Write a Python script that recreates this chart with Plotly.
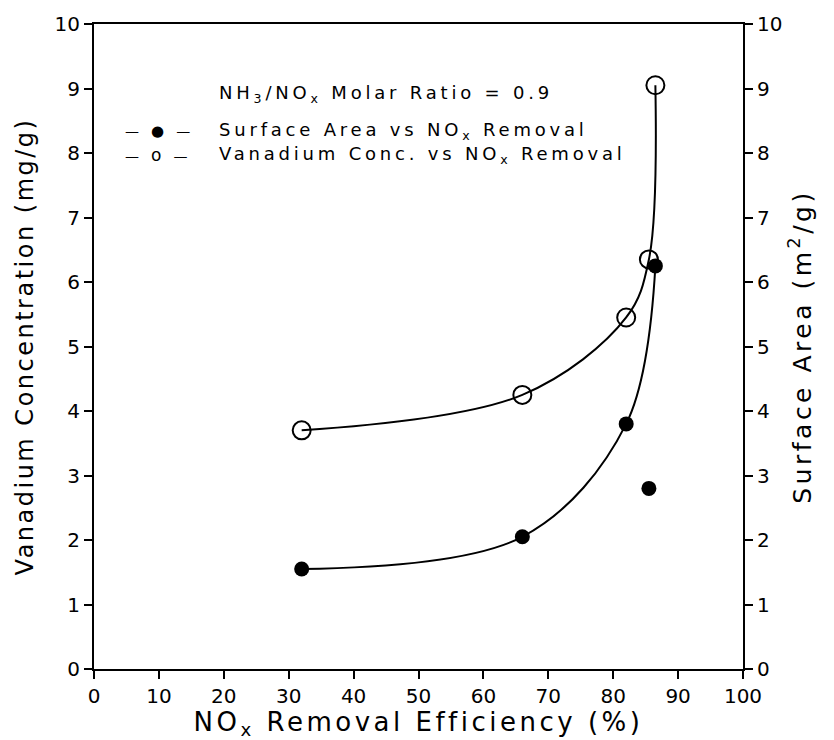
import plotly.graph_objects as go

# NOx removal efficiency (%)
van_x = [32, 66, 82, 85.5, 86.5]
van_y = [3.7, 4.25, 5.45, 6.35, 9.05]      # Vanadium concentration (mg/g)
sa_x = [32, 66, 82, 86.5]
sa_y = [1.55, 2.05, 3.8, 6.25]             # Surface area (m2/g), on curve
sa_out_x = [85.5]
sa_out_y = [2.8]                           # Surface area, off-curve point

x_ticks = list(range(0, 101, 10))
y_ticks = list(range(0, 11, 1))

ratio_text = "NH<sub>3</sub>/NO<sub>x</sub> Molar Ratio = 0.9"
leg1_text = "Surface Area vs NO<sub>x</sub> Removal"
leg2_text = "Vanadium Conc. vs NO<sub>x</sub> Removal"
leg1_sym = "—\u00a0<span style='font-size:15px'>●</span>\u00a0—"
leg2_sym = "—\u00a0<span style='font-size:17px'>o</span>\u00a0—"

FONT = "DejaVu Sans"
fig = go.Figure()

fig.add_trace(go.Scatter(x=van_x, y=van_y, mode="lines+markers",
                         line=dict(color="black", width=2, shape="spline", smoothing=1.0),
                         marker=dict(symbol="circle-open", size=18, color="black", line=dict(width=2)),
                         showlegend=False))
fig.add_trace(go.Scatter(x=sa_x, y=sa_y, mode="lines+markers", yaxis="y2",
                         line=dict(color="black", width=2, shape="spline", smoothing=1.0),
                         marker=dict(symbol="circle", size=15, color="black"),
                         showlegend=False))
fig.add_trace(go.Scatter(x=sa_out_x, y=sa_out_y, mode="markers", yaxis="y2",
                         marker=dict(symbol="circle", size=15, color="black"),
                         showlegend=False))

axis_common = dict(showline=True, linecolor="black", linewidth=2, ticks="outside",
                   ticklen=8, tickwidth=1.5, tickcolor="black", showgrid=False, zeroline=False,
                   tickfont=dict(family=FONT, size=20, color="black"))

txt_font = dict(family=FONT, size=18, color="black")
sym_font = dict(family=FONT, size=14, color="black")

fig.update_layout(
    width=834, height=740,
    margin=dict(l=94, r=91, t=24, b=67),
    paper_bgcolor="white", plot_bgcolor="white",
    font=dict(family=FONT, color="black"),
    showlegend=False,
    xaxis=dict(range=[0, 100], tickvals=x_ticks, mirror=True,
               title=dict(text="NO<sub>x</sub> Removal Efficiency (%)",
                          font=dict(family=FONT, size=26, color="black"), standoff=2),
               **axis_common),
    yaxis=dict(range=[0, 10], tickvals=y_ticks,
               title=dict(text="Vanadium Concentration (mg/g)",
                          font=dict(family=FONT, size=24, color="black"), standoff=14),
               **axis_common),
    yaxis2=dict(range=[0, 10], tickvals=y_ticks, overlaying="y", side="right",
                title=dict(text="Surface Area (m<sup>2</sup>/g)",
                           font=dict(family=FONT, size=25, color="black"), standoff=12),
                **axis_common),
    annotations=[
        dict(x=0.19, y=0.892, xref="paper", yref="paper", xanchor="left", yanchor="middle", align="left",
             text=ratio_text, showarrow=False, font=txt_font),
        dict(x=0.045, y=0.834, xref="paper", yref="paper", xanchor="left", yanchor="middle", align="left",
             text=leg1_sym, showarrow=False, font=sym_font),
        dict(x=0.19, y=0.834, xref="paper", yref="paper", xanchor="left", yanchor="middle", align="left",
             text=leg1_text, showarrow=False, font=txt_font),
        dict(x=0.045, y=0.797, xref="paper", yref="paper", xanchor="left", yanchor="middle", align="left",
             text=leg2_sym, showarrow=False, font=sym_font),
        dict(x=0.19, y=0.797, xref="paper", yref="paper", xanchor="left", yanchor="middle", align="left",
             text=leg2_text, showarrow=False, font=txt_font),
    ],
)

post = """
var gd = document.getElementById('{plot_id}');
function spacing(){
  gd.querySelectorAll('text.xtitle').forEach(function(t){ t.style.letterSpacing = '3.5px'; });
  gd.querySelectorAll('text.ytitle').forEach(function(t){ t.style.letterSpacing = '2.5px'; });
  gd.querySelectorAll('text.y2title').forEach(function(t){ t.style.letterSpacing = '3.5px'; });
  gd.querySelectorAll('text.annotation-text').forEach(function(t){ t.style.letterSpacing = '3.8px'; });
}
spacing();
gd.on('plotly_afterplot', spacing);
"""

fig.write_html("out.html", post_script=post)
